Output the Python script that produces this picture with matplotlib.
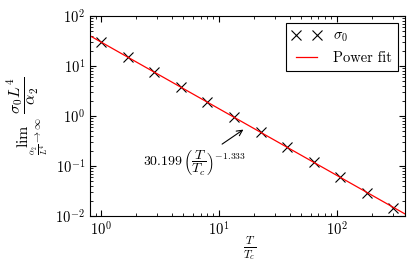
import numpy as np
import matplotlib
matplotlib.use('Agg')
import matplotlib.pyplot as plt
from matplotlib.ticker import LogLocator, NullFormatter

plt.rcParams['mathtext.fontset'] = 'cm'
plt.rcParams['font.family'] = 'serif'
plt.rcParams['font.serif'] = ['cmr10', 'DejaVu Serif']
plt.rcParams['axes.formatter.use_mathtext'] = True
plt.rcParams['font.size'] = 10.5

# data
t_ratio = [1.0, 1.68, 2.83, 4.75, 8.0, 13.4, 22.6, 38.0, 64.0, 107.0, 180.0, 303.0]
sigma0 = [30.2, 15.0, 7.5, 3.75, 1.90, 0.94, 0.47, 0.235, 0.118, 0.059, 0.029, 0.0145]

# power fit parameters
fit_a = 30.199
fit_b = -1.333

fig = plt.figure(figsize=(4.15, 2.71), dpi=100)
ax = fig.add_axes([90 / 415, 1 - 216 / 271, 315 / 415, 200 / 271])

x_fit = np.logspace(np.log10(0.807), np.log10(380), 200)
ax.plot(t_ratio, sigma0, 'x', color='black', markersize=6.5, markeredgewidth=0.8,
        label=r'$\sigma_0$')
ax.plot(x_fit, fit_a * x_fit ** fit_b, color='red', linewidth=0.9, label='Power fit')

ax.set_xscale('log')
ax.set_yscale('log')
ax.set_xlim(0.807, 380)
ax.set_ylim(1e-2, 1e2)

for axis in (ax.xaxis, ax.yaxis):
    axis.set_minor_locator(LogLocator(base=10, subs=np.arange(2, 10), numticks=20))
    axis.set_minor_formatter(NullFormatter())

ax.tick_params(which='both', direction='in', top=True, right=True)
ax.tick_params(which='major', length=4)
ax.tick_params(which='minor', length=2)

ax.annotate(r'$30.199\,\left(\dfrac{T}{T_c}\right)^{-1.333}$',
            xy=(16.9, 0.575), xytext=(2.27, 0.115),
            ha='left', va='center', fontsize=10,
            arrowprops=dict(arrowstyle='->', color='black', lw=0.8))

ax.set_xlabel(r'$\frac{T}{T_c}$', fontsize=12, va='center')
ax.xaxis.set_label_coords(0.508, -0.16)
ax.set_ylabel(r'$\lim_{\frac{\alpha_2}{L^4}\to\infty}\ \dfrac{\sigma_0 L^4}{\alpha_2}$',
              fontsize=11.5)

leg = ax.legend(loc='upper right', numpoints=2, fancybox=False, framealpha=1,
                edgecolor='black')
leg.get_frame().set_linewidth(0.8)

fig.savefig('out.png', dpi=100)
